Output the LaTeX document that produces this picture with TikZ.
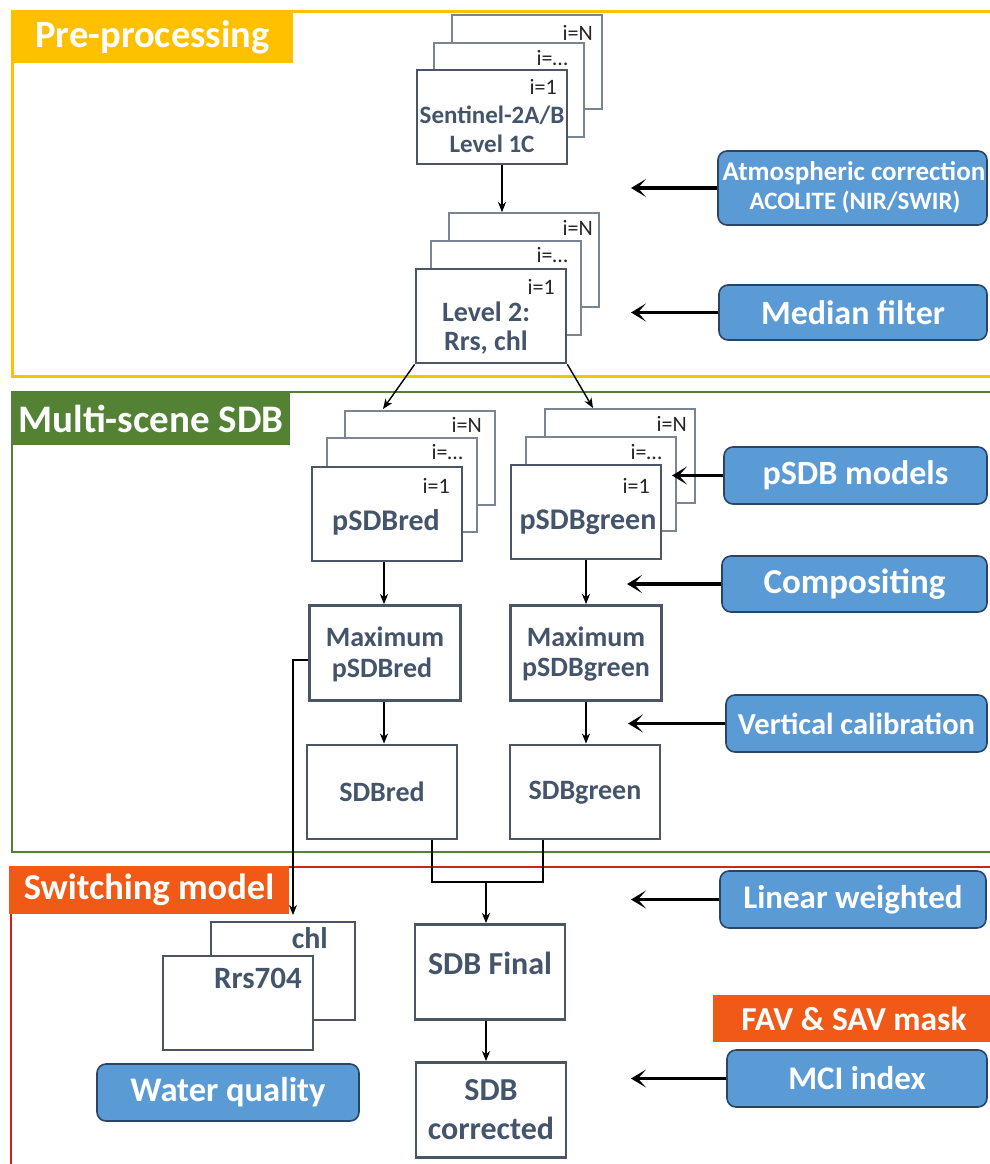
\documentclass[tikz,border=0pt]{standalone}
\usepackage{fontspec}
\setmainfont{Carlito}
\usetikzlibrary{arrows.meta}
\definecolor{ppy}{HTML}{FFC000}
\definecolor{msg}{HTML}{548235}
\definecolor{swo}{HTML}{F05A16}
\definecolor{frred}{HTML}{D42020}
\definecolor{bluef}{HTML}{5B9BD5}
\definecolor{blued}{HTML}{2A4466}
\definecolor{boxc}{HTML}{4A5566}
\definecolor{backc}{HTML}{7A8494}
\definecolor{textc}{HTML}{44546A}
\newcommand\fsz[1]{\fontsize{#1}{#1}\selectfont}
\begin{document}
\begin{tikzpicture}[x=1pt,y=-1pt,
  frontbox/.style={draw=boxc,line width=2.8pt,fill=white,minimum width=150pt,minimum height=94pt,inner sep=0pt},
  backbox/.style={draw=backc,line width=1.7pt,fill=white,minimum width=150pt,minimum height=94pt,inner sep=0pt},
  idx/.style={anchor=east,inner sep=0pt,font=\fsz{22},text=black!85},
  lbl/.style={inner sep=0pt,font=\bfseries\fsz{28},text=textc},
  bluebox/.style={draw=blued,line width=1.6pt,fill=bluef,rounded corners=9pt,inner sep=0pt,text=white,font=\bfseries\fsz{34}},
  seclbl/.style={inner sep=0pt,text=white,font=\bfseries\fsz{38.5}},
  conn/.style={-{Stealth[length=10pt,width=8pt,inset=3pt]},line width=1.4pt},
  inarr/.style={-{Stealth[length=15pt,width=18pt,inset=8pt]},line width=3.4pt}
]
\useasboundingbox (0,0) rectangle (989,1164);
\fill[white] (0,0) rectangle (989,1164);

% section frames
\draw[ppy,line width=3pt] (1000,12) -- (12,12) -- (12,376) -- (1000,376);
\draw[msg,line width=2.5pt] (1000,392) -- (12,392) -- (12,852) -- (1000,852);
\draw[frred,line width=2pt] (1000,867) -- (11,867) -- (11,1175);
\node[seclbl,fill=ppy,minimum width=281pt,minimum height=51pt] (pre) at (152.5,37.5) {Pre-processing};
\node[seclbl,fill=msg,minimum width=278pt,minimum height=53pt,font=\bfseries\fsz{39}] (msl) at (151,418.5) {Multi-scene SDB};
\node[seclbl,fill=swo,minimum width=280pt,minimum height=48pt,font=\bfseries\fsz{36.5}] (swl) at (149,890) {Switching model};

% Sentinel stack
\node[backbox] (s3) at (527,62) {};
\node[backbox] (s2) at (509,90) {};
\node[frontbox] (s1) at (492,117) {};
\node[idx] (s3t) at (593,33) {i=N};
\node[idx] (s2t) at (568,58) {i=…};
\node[idx] (s1t) at (557,87) {i=1};
\node[lbl,font=\bfseries\fsz{25}] (s1a) at (492,115) {Sentinel-2A/B};
\node[lbl,font=\bfseries\fsz{25}] (s1b) at (492,144) {Level 1C};

% Level 2 stack
\node[backbox] (l3) at (524,260) {};
\node[backbox] (l2) at (506,288) {};
\node[frontbox] (l1) at (491,316) {};
\node[idx] (l3t) at (593,228) {i=N};
\node[idx] (l2t) at (568,255) {i=…};
\node[idx] (l1t) at (555,287) {i=1};
\node[lbl] (l1a) at (486,312) {Level 2:};
\node[lbl] (l1b) at (486,343) {Rrs, chl};

% pSDBred stack
\node[backbox] (r3) at (420,458) {};
\node[backbox] (r2) at (402,485) {};
\node[frontbox] (r1) at (387,514) {};
\node[idx] (r3t) at (482,425) {i=N};
\node[idx] (r2t) at (463,452) {i=…};
\node[idx] (r1t) at (450,486) {i=1};
\node[lbl,font=\bfseries\fsz{30}] (r1a) at (386,522) {pSDBred};

% pSDBgreen stack
\node[backbox] (g3) at (620,456) {};
\node[backbox] (g2) at (601,484) {};
\node[frontbox] (g1) at (586,512) {};
\node[idx] (g3t) at (687,424) {i=N};
\node[idx] (g2t) at (662,452) {i=…};
\node[idx] (g1t) at (650,486) {i=1};
\node[lbl,font=\bfseries\fsz{30}] (g1a) at (588,522) {pSDBgreen};

% maximum
\node[frontbox,minimum width=151pt,minimum height=95pt] (rmax) at (385,653) {};
\node[lbl] (rmaxa) at (385,637) {Maximum};
\node[lbl] (rmaxb) at (382,670) {pSDBred};
\node[frontbox,minimum width=151pt,minimum height=95pt] (gmax) at (586,653) {};
\node[lbl] (gmaxa) at (586,637) {Maximum};
\node[lbl] (gmaxb) at (586,670) {pSDBgreen};

% SDB
\node[frontbox] (sdbr) at (382,792) {};
\node[lbl] (sdbra) at (382,792) {SDBred};
\node[frontbox] (sdbg) at (585,792) {};
\node[lbl] (sdbga) at (585,793) {SDBgreen};

% final
\node[frontbox,minimum height=95pt] (fin) at (490,972) {};
\node[lbl,font=\bfseries\fsz{32}] (fina) at (490,963) {SDB Final};
\node[frontbox,minimum height=95pt] (cor) at (491,1110) {};
\node[lbl,font=\bfseries\fsz{32}] (cora) at (491,1090) {SDB};
\node[lbl,font=\bfseries\fsz{32}] (corb) at (491,1128) {corrected};

% chl / Rrs704
\node[frontbox,line width=2.4pt,minimum width=144pt,minimum height=98pt] (chlb) at (283,971) {};
\node[frontbox,line width=2.4pt] (rrsb) at (238,1003) {};
\node[lbl,anchor=east,font=\bfseries\fsz{30}] (chlt) at (328,938) {chl};
\node[lbl,anchor=east,font=\bfseries\fsz{31}] (rrst) at (302,978) {Rrs704};

% blue boxes
\node[bluebox,minimum width=269pt,minimum height=74pt] (atm) at (852.5,188) {};
\node[inner sep=0pt,text=white,font=\bfseries\fsz{27}] (atma) at (854,173) {Atmospheric correction};
\node[inner sep=0pt,text=white,font=\bfseries\fsz{25}] (atmb) at (855,202) {ACOLITE (NIR/SWIR)};
\node[bluebox,minimum width=268pt,minimum height=55pt] (med) at (853,312.5) {Median filter};
\node[bluebox,minimum width=263pt,minimum height=57pt] (psm) at (855.5,475.5) {pSDB models};
\node[bluebox,minimum width=265pt,minimum height=56pt,font=\bfseries\fsz{35}] (comp) at (854.5,584) {Compositing};
\node[bluebox,minimum width=261pt,minimum height=57pt,font=\bfseries\fsz{30.5}] (vcal) at (856.5,723.5) {Vertical calibration};
\node[bluebox,minimum width=266pt,minimum height=57pt,font=\bfseries\fsz{33}] (lin) at (853,899.5) {Linear weighted};
\node[fill=swo,inner sep=0pt,minimum width=282pt,minimum height=47pt,text=white,font=\bfseries\fsz{33.5}] (fav) at (854,1018.5) {FAV \& SAV mask};
\node[bluebox,minimum width=260pt,minimum height=57pt,font=\bfseries\fsz{33}] (mci) at (857,1078.5) {MCI index};
\node[bluebox,minimum width=262pt,minimum height=57pt,font=\bfseries\fsz{34.5}] (wq) at (228,1092.5) {Water quality};

% input arrows
\coordinate (atmtip) at (631,188);
\coordinate (medtip) at (631,312.5);
\coordinate (psmtip) at (672,475.5);
\coordinate (comptip) at (627,584);
\coordinate (vcaltip) at (628,723.5);
\coordinate (lintip) at (631,899.5);
\coordinate (mcitip) at (631,1078.5);
\draw[inarr] (atm.west) -- (atmtip);
\draw[inarr] (med.west) -- (medtip);
\draw[inarr] (psm.west) -- (psmtip);
\draw[inarr] (comp.west) -- (comptip);
\draw[inarr] (vcal.west) -- (vcaltip);
\draw[inarr] (lin.west) -- (lintip);
\draw[inarr] (mci.west) -- (mcitip);

% flow connectors
\coordinate (lfoot) at (383,409);
\coordinate (rfoot) at (593,408);
\coordinate (join) at (486,882);
\coordinate (swend) at (293,915);
\draw[conn] ([xshift=10pt]s1.south) -- ([xshift=10pt]s1.south |- l3.north);
\draw[conn] (l1.south west) -- (lfoot);
\draw[conn] (l1.south east) -- (rfoot);
\draw[conn] ([xshift=-3pt]r1.south) -- ([xshift=-3pt]r1.south |- rmax.north);
\draw[conn] (g1.south) -- (g1.south |- gmax.north);
\draw[conn] ([xshift=-1pt]rmax.south) -- ([xshift=-1pt]rmax.south |- sdbr.north);
\draw[conn] (gmax.south) -- (gmax.south |- sdbg.north);
\draw[line width=1.4pt] ([xshift=50pt]sdbr.south) |- (join) -| ([xshift=-42pt]sdbg.south);
\draw[conn] (join) -- (join |- fin.north);
\draw[conn] ([xshift=-4pt]fin.south) -- ([xshift=-4pt]fin.south |- cor.north);
\draw[conn] ([yshift=-7pt]rmax.west) -| (swend);
\end{tikzpicture}
\end{document}
